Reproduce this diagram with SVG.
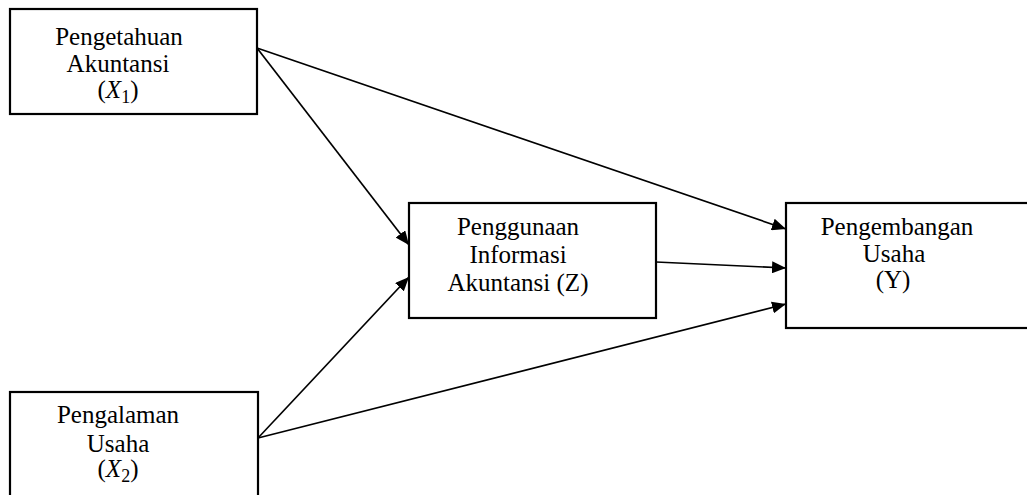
<svg xmlns="http://www.w3.org/2000/svg" width="1027" height="495" viewBox="0 0 1027 495">
  <style>
    .box { fill: #ffffff; stroke: #000000; stroke-width: 2.2; }
    .lbl { font-family: "Liberation Serif", "Times New Roman", serif; font-size: 25px; fill: #000000; text-anchor: middle; }
    .math { font-style: italic; }
    .conn { stroke: #000000; stroke-width: 1.7; fill: none; marker-end: url(#arr); }
  </style>
  <defs>
    <marker id="arr" markerUnits="userSpaceOnUse" markerWidth="14" markerHeight="12" viewBox="0 0 14 12" refX="14" refY="6" orient="auto">
      <path d="M0,0 L14,6 L0,12 Z" fill="#000000"/>
    </marker>
  </defs>
  <rect width="1027" height="495" fill="#ffffff"/>
  <g id="connectors">
    <line class="conn" x1="257" y1="48" x2="409" y2="245"/>
    <line class="conn" x1="257" y1="48" x2="786" y2="229"/>
    <line class="conn" x1="258" y1="438" x2="409" y2="277"/>
    <line class="conn" x1="258" y1="438" x2="786" y2="304"/>
    <line class="conn" x1="656" y1="262" x2="786" y2="268"/>
  </g>
  <g id="node-x1">
    <rect class="box" x="10" y="9" width="247" height="105"/>
    <text class="lbl" x="119" y="45">Pengetahuan</text>
    <text class="lbl" x="118" y="72">Akuntansi</text>
    <text class="lbl" x="118" y="98">(<tspan class="math">X</tspan><tspan font-size="18" dy="5">1</tspan><tspan dy="-5">)</tspan></text>
  </g>
  <g id="node-x2">
    <rect class="box" x="10" y="392" width="248" height="115"/>
    <text class="lbl" x="118" y="423">Pengalaman</text>
    <text class="lbl" x="118" y="452">Usaha</text>
    <text class="lbl" x="118" y="477">(<tspan class="math">X</tspan><tspan font-size="18" dy="5">2</tspan><tspan dy="-5">)</tspan></text>
  </g>
  <g id="node-z">
    <rect class="box" x="409" y="203" width="247" height="115"/>
    <text class="lbl" x="518" y="235">Penggunaan</text>
    <text class="lbl" x="518" y="263">Informasi</text>
    <text class="lbl" x="518" y="291">Akuntansi (Z)</text>
  </g>
  <g id="node-y">
    <rect class="box" x="786" y="203" width="250" height="125"/>
    <text class="lbl" x="897" y="235">Pengembangan</text>
    <text class="lbl" x="894" y="262">Usaha</text>
    <text class="lbl" x="893" y="288">(Y)</text>
  </g>
</svg>
